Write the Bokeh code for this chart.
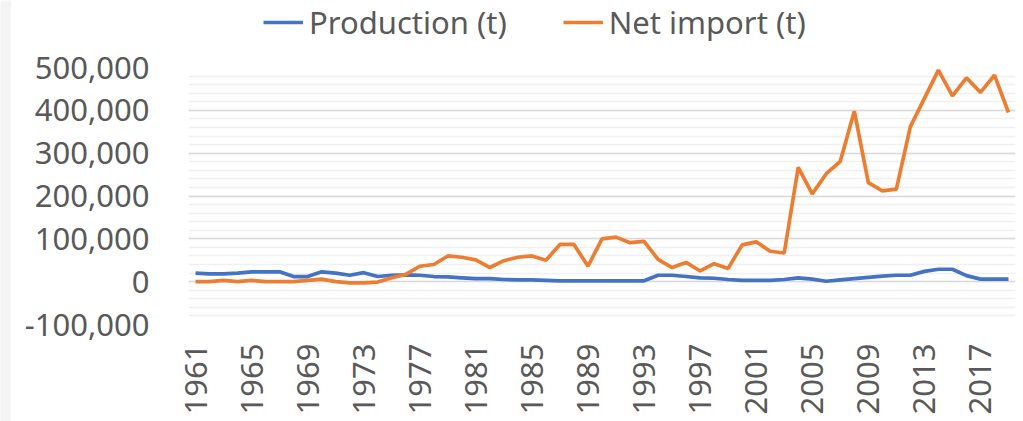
import math
from bokeh.plotting import figure
from bokeh.layouts import column, row
from bokeh.models import (Legend, LegendItem, FixedTicker, NumeralTickFormatter,
                          Range1d, ColumnDataSource)
from bokeh.embed import file_html
from bokeh.resources import INLINE

years = list(range(1961, 2020))
production = [20000, 18000, 18000, 20000, 23000, 23000, 23000, 12000, 12000, 23000,
              20000, 15000, 21000, 12000, 15000, 16000, 15000, 12000, 11000,
              9000, 7000, 7000, 5000, 4000, 4000, 3000, 2000, 2000, 2000,
              2000, 2000, 2000, 2000, 15000, 15000, 12000, 9000, 8000, 5000,
              3000, 3000, 3000, 5000, 9000, 6000, 1000, 4000, 7000, 10000,
              13000, 15000, 15000, 24000, 29000, 29000, 14000, 6000, 6000, 6000]
net_import = [0, 0, 3000, 0, 3000, 0, 0, 0, 3000, 6000,
              0, -3000, -3000, -1000, 9000, 17000, 36000, 40000, 60000,
              57000, 51000, 33000, 49000, 57000, 60000, 50000, 87000, 87000, 36000,
              100000, 104000, 91000, 94000, 52000, 33000, 45000, 25000, 42000, 31000,
              86000, 93000, 71000, 67000, 267000, 205000, 252000, 281000, 398000, 231000,
              212000, 216000, 362000, 428000, 494000, 434000, 476000, 442000, 482000, 395000]
x_tick_years = list(range(1961, 2020, 4))
y_major = [-100000, 0, 100000, 200000, 300000, 400000, 500000]
y_minor = list(range(-100000, 500001, 20000))
series_names = ["Production (t)", "Net import (t)"]

FONT = "Noto Sans"
FS = "31px"
TXT = "#595959"
BLUE = "#4472C4"
ORANGE = "#ED7D31"

src = ColumnDataSource(dict(year=years, prod=production, imp=net_import))

# ---- thin grey strip at the far left ----
strip = figure(width=11, height=421, output_backend="svg", toolbar_location=None,
               min_border_left=0, min_border_right=0, min_border_top=0,
               min_border_bottom=0)
strip.axis.visible = False
strip.grid.visible = False
strip.outline_line_color = None
strip.background_fill_color = "#f4f4f4"
strip.border_fill_color = "#f4f4f4"

# ---- legend strip ----
lg = figure(width=1012, height=45, output_backend="svg", toolbar_location=None,
            x_range=Range1d(0, 1), y_range=Range1d(0, 1),
            min_border_left=177, min_border_right=8, min_border_top=0,
            min_border_bottom=0)
lg.axis.visible = False
lg.grid.visible = False
lg.outline_line_color = None
d1 = lg.line([-5, -4], [-5, -4], line_color=BLUE, line_width=3.5)
d2 = lg.line([-5, -4], [-5, -4], line_color=ORANGE, line_width=3.5)
legend = Legend(items=[LegendItem(label=series_names[0], renderers=[d1]),
                       LegendItem(label=series_names[1], renderers=[d2])],
                orientation="horizontal", location=(75, 2),
                padding=0, margin=0, spacing=56, glyph_width=40,
                label_standoff=6, border_line_color=None,
                background_fill_alpha=0,
                label_text_font=FONT, label_text_font_size=FS,
                label_text_color=TXT)
lg.add_layout(legend, "center")

# ---- main chart ----
p = figure(width=1012, height=376, output_backend="svg", toolbar_location=None,
           x_range=Range1d(1960.5, 2019.5), y_range=Range1d(-100000, 500000),
           min_border_left=177, min_border_right=8, min_border_top=22,
           min_border_bottom=97)
p.outline_line_color = None
p.background_fill_color = "white"
p.border_fill_color = "white"

p.line("year", "prod", source=src, line_color=BLUE, line_width=3.7)
p.line("year", "imp", source=src, line_color=ORANGE, line_width=3.7)

p.xaxis.ticker = FixedTicker(ticks=x_tick_years)
p.xaxis.major_label_orientation = math.pi / 2
p.xaxis.axis_line_color = None
p.xaxis.major_tick_line_color = None
p.xaxis.minor_tick_line_color = None
p.xaxis.major_label_standoff = 13
p.xaxis.major_label_text_font = FONT
p.xaxis.major_label_text_font_size = FS
p.xaxis.major_label_text_color = TXT

p.yaxis.ticker = FixedTicker(ticks=y_major, minor_ticks=y_minor)
p.yaxis.formatter = NumeralTickFormatter(format="0,0")
p.yaxis.axis_line_color = None
p.yaxis.major_tick_line_color = None
p.yaxis.minor_tick_line_color = None
p.yaxis.major_label_standoff = 33
p.yaxis.major_label_text_font = FONT
p.yaxis.major_label_text_font_size = FS
p.yaxis.major_label_text_color = TXT

p.xgrid.grid_line_color = None
p.ygrid.grid_line_color = "#d9d9d9"
p.ygrid.grid_line_width = 1.3
p.ygrid.minor_grid_line_color = "#f0f0f0"
p.ygrid.minor_grid_line_width = 1.3

layout = row(strip, column(lg, p, spacing=0), spacing=0)
open("out.html", "w").write(file_html(layout, INLINE))
